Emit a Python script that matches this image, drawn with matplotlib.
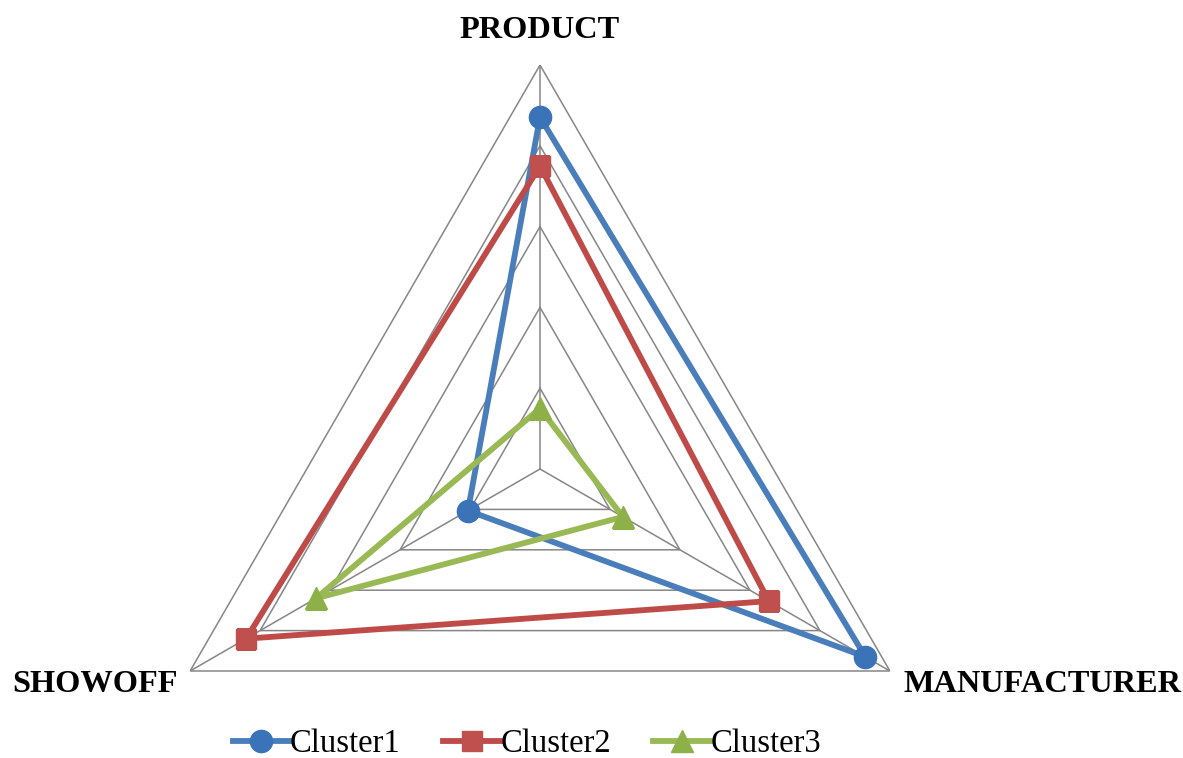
import matplotlib
matplotlib.use("Agg")
import matplotlib.pyplot as plt
import numpy as np

# Axis names and cluster scores
categories = ["PRODUCT", "MANUFACTURER", "SHOWOFF"]
cluster1 = [0.871, 0.93, 0.206]
cluster2 = [0.75, 0.654, 0.84]
cluster3 = [0.15, 0.237, 0.64]
series_names = ["Cluster1", "Cluster2", "Cluster3"]

plt.rcParams["font.family"] = ["Liberation Serif", "DejaVu Serif"]

fig = plt.figure(figsize=(11.83, 7.58), dpi=100)
W, H = 1183, 758
cx, cy, R = 540, 469, 404
ax = fig.add_axes([(cx - R) / W, (H - cy - R) / H, 2 * R / W, 2 * R / H],
                  projection="polar")
ax.set_theta_offset(np.pi / 2)
ax.set_theta_direction(-1)
ax.set_ylim(0, 1)
ax.grid(False)
ax.spines["polar"].set_visible(False)
ax.set_xticks([])
ax.set_yticks([])
ax.patch.set_visible(False)

n = len(categories)
angles = np.arange(n) * 2 * np.pi / n
closed = np.append(angles, angles[0])

# triangular grid rings and spokes
grid_col = "#868686"
for level in [0.2, 0.4, 0.6, 0.8, 1.0]:
    ax.plot(closed, [level] * (n + 1), color=grid_col, lw=1.1, zorder=1)
for a in angles:
    ax.plot([a, a], [0, 1], color=grid_col, lw=1.1, zorder=1)

styles = [
    (cluster1, "#4A7EBB", "#3B73B9", "o", 16),
    (cluster2, "#BE4B48", "#C0504D", "s", 15),
    (cluster3, "#98B954", "#8DB049", "^", 16),
]
handles = []
for (vals, lc, mc, mk, ms), name in zip(styles, series_names):
    v = np.append(vals, vals[0])
    ax.plot(closed, v, color=lc, lw=4.2, zorder=3, solid_joinstyle="round")
    ax.plot(angles, vals, linestyle="none", marker=mk, markersize=ms,
            markerfacecolor=mc, markeredgecolor=mc, zorder=4)
    leg_h, = plt.plot([], [], color=lc, lw=4.2, marker=mk, markersize=ms,
                      markerfacecolor=mc, markeredgecolor=mc)
    handles.append(leg_h)

# axis labels
fig.text(540 / W, 1 - 30 / H, "PRODUCT", ha="center", va="center",
         fontsize=23.3, fontweight="bold")
fig.text(12 / W, 1 - 684 / H, "SHOWOFF", ha="left", va="center",
         fontsize=23.3, fontweight="bold")
fig.text(1181 / W, 1 - 684 / H, "MANUFACTURER", ha="right", va="center",
         fontsize=23.3, fontweight="bold")

fig.legend(handles, series_names, loc="center", bbox_to_anchor=(527 / W, 1 - 744 / H),
           ncol=3, frameon=False, fontsize=23.5, handlelength=1.75,
           handletextpad=0.0, columnspacing=1.3, borderaxespad=0)

fig.savefig("out.png", dpi=100)
